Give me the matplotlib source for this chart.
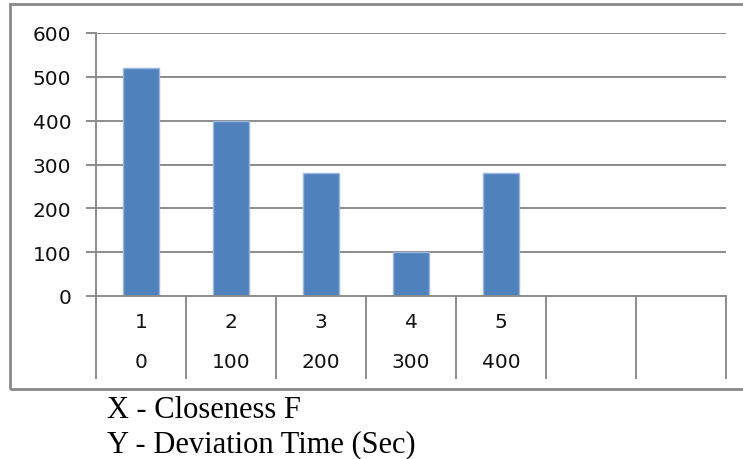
import matplotlib.pyplot as plt
import matplotlib.transforms as mtransforms
from matplotlib.patches import Rectangle

# chart data
row1_labels = ["1", "2", "3", "4", "5", "", ""]
row2_labels = ["0", "100", "200", "300", "400", "", ""]
values = [520, 400, 280, 100, 280]
y_ticks = [0, 100, 200, 300, 400, 500, 600]
captions = ["X - Closeness F", "Y - Deviation Time (Sec)"]

W, H = 743, 460
fig = plt.figure(figsize=(W / 100, H / 100), dpi=100)

# plot area in pixel terms: x 96..726, y 34..297
ax = fig.add_axes([96 / W, (H - 297) / H, 630 / W, 263 / H])
n = len(row1_labels)
ax.set_xlim(0, n)
ax.set_ylim(0, 600)

grid_col = "#8c8c8c"
txt_col = "#111111"
for t in y_ticks[1:]:
    ax.axhline(t, color=grid_col, lw=1.4, zorder=1)

xs = [i + 0.5 for i in range(len(values))]
ax.bar(xs, values, width=0.39, color="#4F81BD", edgecolor="#9db7dc",
       linewidth=1.0, zorder=2)

for s in ["top", "right"]:
    ax.spines[s].set_visible(False)
ax.spines["left"].set_color(grid_col)
ax.spines["left"].set_linewidth(1.4)
ax.spines["bottom"].set_color(grid_col)
ax.spines["bottom"].set_linewidth(1.4)

ax.set_yticks(y_ticks)
ax.tick_params(axis="y", length=7.2, width=1.4, color=grid_col, pad=10.5,
               labelsize=14.5, labelcolor=txt_col)
ax.set_xticks([])

# category table under the axis
trans = mtransforms.blended_transform_factory(ax.transData, ax.transAxes)
for i in range(n + 1):
    ax.plot([i, i], [0, -82 / 263], transform=trans, color=grid_col,
            lw=1.4, clip_on=False)
for i in range(n):
    ax.text(i + 0.5, -26 / 263, row1_labels[i], transform=trans,
            ha="center", va="center", fontsize=14.5, color=txt_col)
    ax.text(i + 0.5, -66 / 263, row2_labels[i], transform=trans,
            ha="center", va="center", fontsize=14.5, color=txt_col)

# outer chart border (right edge falls off the picture)
fig.patches.append(Rectangle((10 / W, (H - 390) / H), 1.0, 385 / H,
                             transform=fig.transFigure, fill=False,
                             edgecolor="#8a8a8a", lw=2))

fig.text(107 / W, (H - 418) / H, captions[0], fontsize=22,
         family="Liberation Serif", va="baseline")
fig.text(107 / W, (H - 452) / H, captions[1], fontsize=22,
         family="Liberation Serif", va="baseline")

fig.savefig("out.png", dpi=100)
